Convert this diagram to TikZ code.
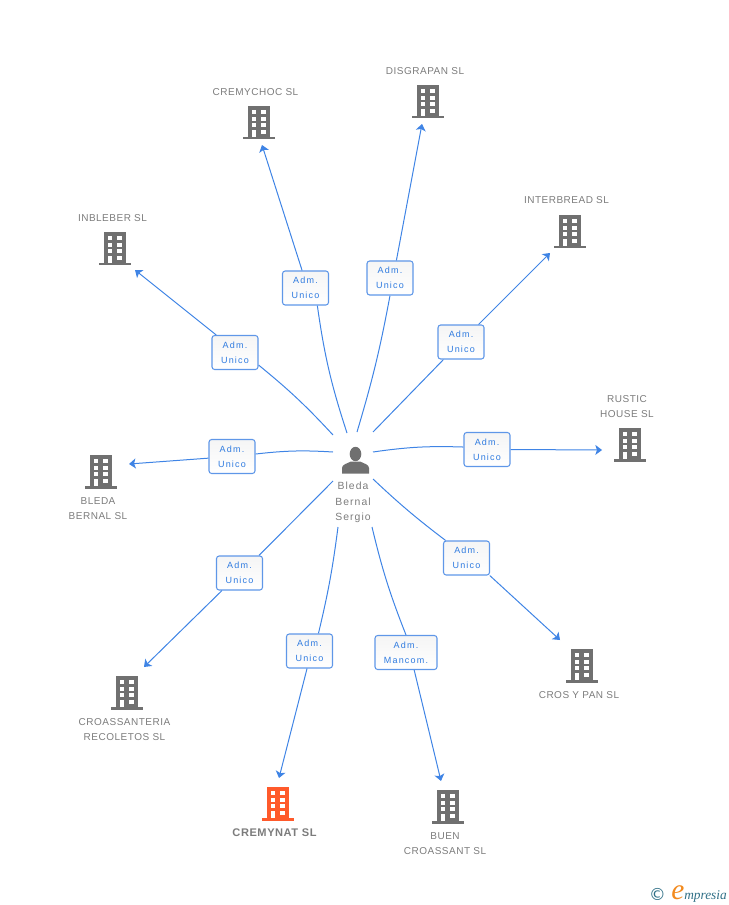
\documentclass[tikz,border=0pt]{standalone}
\usepackage{fontspec}
\setmainfont{Liberation Sans}
\newfontfamily\lblfont[LetterSpace=5]{Liberation Sans}
\newfontfamily\boxfont[LetterSpace=13]{Liberation Sans}
\newfontfamily\perfont[LetterSpace=10]{Liberation Sans}
\newfontfamily\logofont{Liberation Serif}
\newfontfamily\copyfont{DejaVu Sans}
\usetikzlibrary{arrows.meta,backgrounds}
\definecolor{linkblue}{HTML}{3F84E5}
\definecolor{boxline}{HTML}{5F97E8}
\definecolor{boxtop}{HTML}{F5F5F5}
\definecolor{boxtext}{HTML}{2F7BE0}
\definecolor{greytext}{HTML}{7C7C7C}
\definecolor{bldggrey}{HTML}{707070}
\definecolor{bldgred}{HTML}{FF5A2B}
\definecolor{logoteal}{HTML}{2F6F86}
\definecolor{logoorange}{HTML}{F28A1E}
\tikzset{
  x=0.75pt,y=-0.75pt,
  rolebox/.style={draw=boxline,line width=0.8pt,rounded corners=2pt,top color=boxtop,bottom color=white,
    minimum width=34.5pt,minimum height=25.5pt,inner sep=0pt,align=center,text=boxtext,
    font=\boxfont\fontsize{6.75}{11.25}\selectfont},
  widebox/.style={rolebox,minimum width=46.5pt},
  complabel/.style={text=greytext,align=center,inner sep=0pt,font=\lblfont\fontsize{7.5}{11.25}\selectfont},
  perslabel/.style={text=greytext,align=center,inner sep=0pt,font=\perfont\fontsize{7.8}{11.7}\selectfont},
  bldgnode/.style={inner sep=0pt,minimum width=24pt,minimum height=25pt},
  linkline/.style={draw=linkblue,line width=0.75pt},
  linkarrow/.style={linkline,-{Stealth[length=5pt,width=7.5pt,inset=1.2pt]}}
}
\newcommand{\bldg}[4]{%
  \node[bldgnode] (#1) at (#2,#3+16) {};
  \begin{scope}[shift={(#2,#3)}]
    \fill[#4] (-11,0) rectangle (11,31);
    \fill[#4] (-16,31) rectangle (16,33.5);
    \fill[white] (-7,4) rectangle (-2.6,8);
    \fill[white] (2.4,4) rectangle (7,8);
    \fill[white] (-7,10.7) rectangle (-2.6,14.7);
    \fill[white] (2.4,10.7) rectangle (7,14.7);
    \fill[white] (-7,17.3) rectangle (-2.6,21.3);
    \fill[white] (2.4,17.3) rectangle (7,21.3);
    \fill[white] (-7,24) rectangle (-2.6,31);
    \fill[white] (2.4,24) rectangle (7,28);
  \end{scope}}
\begin{document}
\begin{tikzpicture}
\useasboundingbox (0,0) rectangle (728,905);
% buildings
\bldg{bCremychoc}{259}{106}{bldggrey}
\bldg{bDisgrapan}{428}{85}{bldggrey}
\bldg{bInterbread}{570}{215}{bldggrey}
\bldg{bRustic}{630}{428}{bldggrey}
\bldg{bBleda}{101}{455}{bldggrey}
\bldg{bInbleber}{115}{232}{bldggrey}
\bldg{bCroassanteria}{127}{676}{bldggrey}
\bldg{bCremynat}{278}{787}{bldgred}
\bldg{bBuen}{448}{790}{bldggrey}
\bldg{bCros}{582}{649}{bldggrey}
% company labels
\node[complabel] (lCremychoc) at (255.5,92) {CREMYCHOC SL};
\node[complabel] (lDisgrapan) at (425,71) {DISGRAPAN SL};
\node[complabel] (lInterbread) at (566.5,200) {INTERBREAD SL};
\node[complabel] (lRustic) at (627,406.5) {RUSTIC\\HOUSE SL};
\node[complabel] (lBleda) at (98,508.5) {BLEDA\\BERNAL SL};
\node[complabel] (lInbleber) at (112.5,218) {INBLEBER SL};
\node[complabel] (lCroassanteria) at (124.5,729.5) {CROASSANTERIA\\RECOLETOS SL};
\node[complabel,font=\lblfont\bfseries\fontsize{8.3}{11.25}\selectfont] (lCremynat) at (274.5,832.5) {CREMYNAT SL};
\node[complabel] (lBuen) at (445,843.5) {BUEN\\CROASSANT SL};
\node[complabel] (lCros) at (579,695) {CROS Y PAN SL};
% person
\node[inner sep=0pt,minimum width=20pt,minimum height=20pt] (person) at (355.5,460) {};
\fill[bldggrey] (355.5,454) ellipse (5.8 and 7.2);
\fill[bldggrey] (342,473.5) -- (342,468) .. controls (342,464.5) and (347,463.5) .. (351,461.5) -- (360,461.5) .. controls (364,463.5) and (369,464.5) .. (369,468) -- (369,473.5) -- cycle;
\node[perslabel] (lPerson) at (353,502.5) {Bleda\\Bernal\\Sergio};
% role boxes
\node[rolebox] (r1) at (305.5,288) {Adm.\\Unico};
\node[rolebox] (r2) at (390,278) {Adm.\\Unico};
\node[rolebox] (r3) at (461,342) {Adm.\\Unico};
\node[rolebox] (r4) at (487,449.5) {Adm.\\Unico};
\node[rolebox] (r5) at (466.5,558) {Adm.\\Unico};
\node[widebox] (r6) at (406,652.5) {Adm.\\Mancom.};
\node[rolebox] (r7) at (309.5,651) {Adm.\\Unico};
\node[rolebox] (r8) at (239.5,573) {Adm.\\Unico};
\node[rolebox] (r9) at (232,456.5) {Adm.\\Unico};
\node[rolebox] (r10) at (235,352.5) {Adm.\\Unico};
% connector ends
\coordinate (s1) at (347,433);
\coordinate (s2) at (357,432);
\coordinate (s3) at (373,432);
\coordinate (s4) at (373,452);
\coordinate (s5) at (373,479);
\coordinate (s6) at (372,527);
\coordinate (s7) at (338,527);
\coordinate (s8) at (333,481);
\coordinate (s9) at (333,452);
\coordinate (s10) at (333,435);
\coordinate (t1) at (262,145);
\coordinate (t2) at (422,124);
\coordinate (t3) at (550,253);
\coordinate (t4) at (602,450);
\coordinate (t5) at (560,640);
\coordinate (t6) at (441,781);
\coordinate (t7) at (279,778);
\coordinate (t8) at (144,667);
\coordinate (t9) at (129,464);
\coordinate (t10) at (135,270);
\begin{scope}[on background layer]
\draw[linkline] (s1) to[bend left=5] (r1.-56);
\draw[linkline] (s2) to[bend right=3] (r2.-90);
\draw[linkline] (s3) to (r3.-135);
\draw[linkline] (s4) to[bend left=5] (r4.174);
\draw[linkline] (s5) to[bend right=3] (r5.140);
\draw[linkline] (s6) to[bend right=4] (r6.north);
\draw[linkline] (s7) to[bend left=3] (r7.63);
\draw[linkline] (s8) to (r8.42);
\draw[linkline] (s9) to[bend right=5] (r9.6);
\draw[linkline] (s10) to[bend right=4] (r10.-28);
\end{scope}
\draw[linkarrow] (r1.101) -- (t1);
\draw[linkarrow] (r2.70) -- (t2);
\draw[linkarrow] (r3.45) -- (t3);
\draw[linkarrow] (r4.east) -- (t4);
\draw[linkarrow] (r5.-37) -- (t5);
\draw[linkarrow] (r6.-65) -- (t6);
\draw[linkarrow] (r7.-98) -- (t7);
\draw[linkarrow] (r8.-135) -- (t8);
\draw[linkarrow] (r9.-176) -- (t9);
\draw[linkarrow] (r10.137) -- (t10);
% logo
\node[inner sep=0pt,text=logoteal,font=\copyfont\fontsize{12.5}{12.5}\selectfont] (logoC) at (657.5,894) {©};
\node[inner sep=0pt,anchor=base west,text=logoteal,font=\logofont\itshape\fontsize{10}{10}\selectfont] (logoT) at (671,899) {\textcolor{logoorange}{\fontsize{22}{22}\selectfont e}mpresia};
\end{tikzpicture}
\end{document}
